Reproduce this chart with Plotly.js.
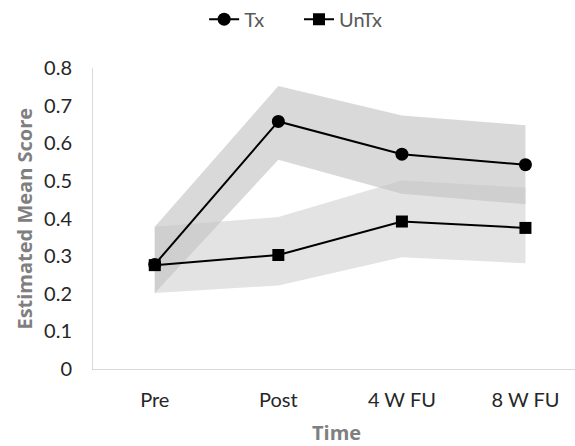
<!DOCTYPE html>
<html>
<head>
<meta charset="utf-8">
<script src="https://cdn.plot.ly/plotly-3.0.1.min.js"></script>
<style>html,body{margin:0;padding:0;background:#fff;}#chart{width:575px;height:446px;}</style>
</head>
<body>
<div id="chart"></div>
<script>
// Data
var timeLabels = ["Pre", "Post", "4 W FU", "8 W FU"];
var timeIndex = [0, 1, 2, 3];
var txMean  = [0.278, 0.658, 0.571, 0.543];
var txUpper = [0.378, 0.752, 0.674, 0.648];
var txLower = [0.202, 0.556, 0.466, 0.438];
var unMean  = [0.276, 0.303, 0.392, 0.375];
var unUpper = [0.378, 0.404, 0.501, 0.482];
var unLower = [0.202, 0.222, 0.297, 0.281];
var seriesNames = ["Tx", "UnTx"];
var yTicks = [0, 0.1, 0.2, 0.3, 0.4, 0.5, 0.6, 0.7, 0.8];
var yTickText = ["0", "0.1", "0.2", "0.3", "0.4", "0.5", "0.6", "0.7", "0.8"];

function band(upper, lower) {
  var xs = timeIndex.concat(timeIndex.slice().reverse());
  var ys = upper.concat(lower.slice().reverse());
  return {x: xs, y: ys};
}
var txBand = band(txUpper, txLower);
var unBand = band(unUpper, unLower);

var tickFont = {family: "Lato, 'Open Sans', sans-serif", size: 20, color: "#262626"};
var titleFont = {family: "'Open Sans', Lato, sans-serif", size: 20, color: "#7f7f7f", weight: "bold"};
var legendFont = {family: "Lato, 'Open Sans', sans-serif", size: 20, color: "#595959"};

var traces = [
  {x: txBand.x, y: txBand.y, type: "scatter", mode: "lines", fill: "toself",
   fillcolor: "rgba(195,195,195,0.63)", line: {width: 0}, hoverinfo: "skip", showlegend: false},
  {x: unBand.x, y: unBand.y, type: "scatter", mode: "lines", fill: "toself",
   fillcolor: "rgba(195,195,195,0.47)", line: {width: 0}, hoverinfo: "skip", showlegend: false},
  {x: timeIndex, y: txMean, name: seriesNames[0], type: "scatter", mode: "lines+markers",
   legend: "legend",
   line: {color: "#000", width: 2}, marker: {symbol: "circle", size: 13, color: "#000"}},
  {x: timeIndex, y: unMean, name: seriesNames[1], type: "scatter", mode: "lines+markers",
   legend: "legend2",
   line: {color: "#000", width: 2}, marker: {symbol: "square", size: 12, color: "#000"}}
];

var layout = {
  width: 575, height: 446,
  margin: {l: 93, r: 0, t: 68, b: 77},
  paper_bgcolor: "#fff", plot_bgcolor: "#fff",
  showlegend: true,
  legend: {orientation: "h", xref: "container", yref: "container", x: 0.355, y: 0.957,
           xanchor: "left", yanchor: "middle", font: legendFont, bgcolor: "rgba(0,0,0,0)"},
  legend2: {orientation: "h", xref: "container", yref: "container", x: 0.52, y: 0.957,
           xanchor: "left", yanchor: "middle", font: legendFont, bgcolor: "rgba(0,0,0,0)"},
  xaxis: {range: [-0.5, 3.401], showgrid: false, zeroline: false,
          showline: true, linecolor: "#d9d9d9", linewidth: 1,
          tickmode: "array", tickvals: timeIndex, ticktext: timeLabels,
          ticks: "outside", ticklen: 13, tickcolor: "rgba(0,0,0,0)", tickfont: tickFont},
  yaxis: {range: [0, 0.8], showgrid: false, zeroline: false,
          showline: true, linecolor: "#d9d9d9", linewidth: 1,
          tickmode: "array", tickvals: yTicks, ticktext: yTickText,
          ticks: "outside", ticklen: 16, tickcolor: "rgba(0,0,0,0)", tickfont: tickFont},
  annotations: [
    {text: "Estimated Mean Score", xref: "paper", yref: "paper", x: -0.143, y: 0.5,
     xanchor: "center", yanchor: "middle", textangle: -90, showarrow: false, font: titleFont},
    {text: "Time", xref: "paper", yref: "paper", x: 0.505, y: -0.211,
     xanchor: "center", yanchor: "middle", showarrow: false, font: titleFont}
  ]
};

Plotly.newPlot("chart", traces, layout, {staticPlot: true, displayModeBar: false});
</script>
</body>
</html>
